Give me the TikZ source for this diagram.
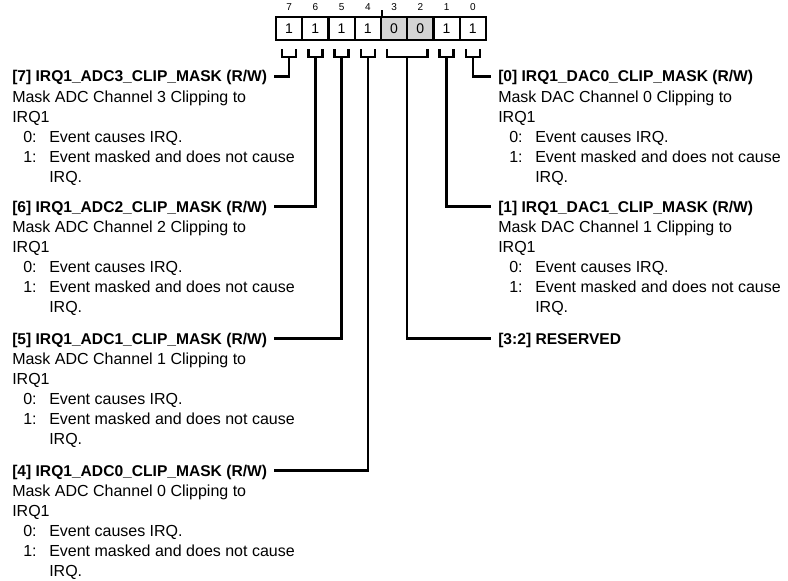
\documentclass[tikz,border=0pt]{standalone}
\usepackage{fontspec}
\setmainfont{Liberation Sans}
\usetikzlibrary{positioning,calc}

\definecolor{rsvdgray}{RGB}{212,212,212}

\tikzset{
  regcell/.style={draw, line width=1.8pt, minimum width=19.7pt, minimum height=17.25pt, inner sep=0pt, font=\fontsize{10.5}{12}\selectfont},
  bitnum/.style={inner sep=0pt, font=\fontsize{7.5}{9}\selectfont},
  brk/.style={line width=1.8pt},
  wire/.style={line width=1.8pt},
  fldname/.style={anchor=base west, inner xsep=5.25pt, inner ysep=0pt, text depth=0pt, font=\bfseries\fontsize{11.7}{15}\selectfont},
  flddesc/.style={inner xsep=5.25pt, inner ysep=0pt, align=left, font=\fontsize{12}{15}\selectfont}
}

\newcommand{\clipdesc}[2]{Mask #1 Channel #2 Clipping to\\IRQ1\\
  \hspace*{8.25pt}\makebox[19.5pt][l]{0:}Event causes IRQ.\\
  \hspace*{8.25pt}\makebox[19.5pt][l]{1:}Event masked and does not cause\\
  \hspace*{27.75pt}IRQ.}

\begin{document}
\begin{tikzpicture}[x=0.75pt,y=-0.75pt]
\useasboundingbox (0,0) rectangle (788,581);

% register cells, bit 7 on the left
\foreach \b/\v/\f in {7/1/white,6/1/white,5/1/white,4/1/white,3/0/rsvdgray,2/0/rsvdgray,1/1/white,0/1/white}
  \node[regcell, fill=\f] (c\b) at ({289.125+26.25*(7-\b)},28.5) {\v};
\foreach \b in {7,...,0}
  \node[bitnum, above=4pt of c\b] (n\b) {\b};
\draw[wire] (c4.north east) -- ++(0,-6);

% brackets under the fields
\foreach \b in {7,6,5,4,1,0} {
  \draw[brk] ($(c\b.south)+(-7,8)$) -- ++(0,8) -- ++(14,0) -- ++(0,-8);
  \coordinate (k\b) at ($(c\b.south)+(0,16)$);
}
\draw[brk] ($(c3.south)+(-7,8)$) -- ++(0,8) -| ($(c2.south)+(7,8)$);
\coordinate (k32) at ($(c3.south)!0.5!(c2.south)+(0,16)$);

% left column
\node[fldname] (t7) at (5,82) {[7] IRQ1\_ADC3\_CLIP\_MASK (R/W)};
\node[flddesc, below=6pt of t7.south west, anchor=north west] (d7) {\clipdesc{ADC}{3}};
\node[fldname] (t6) at (5,212) {[6] IRQ1\_ADC2\_CLIP\_MASK (R/W)};
\node[flddesc, below=6pt of t6.south west, anchor=north west] (d6) {\clipdesc{ADC}{2}};
\node[fldname] (t5) at (5,344) {[5] IRQ1\_ADC1\_CLIP\_MASK (R/W)};
\node[flddesc, below=6pt of t5.south west, anchor=north west] (d5) {\clipdesc{ADC}{1}};
\node[fldname] (t4) at (5,476) {[4] IRQ1\_ADC0\_CLIP\_MASK (R/W)};
\node[flddesc, below=6pt of t4.south west, anchor=north west] (d4) {\clipdesc{ADC}{0}};

% right column
\node[fldname] (t0) at (491,82) {[0] IRQ1\_DAC0\_CLIP\_MASK (R/W)};
\node[flddesc, below=6pt of t0.south west, anchor=north west] (d0) {\clipdesc{DAC}{0}};
\node[fldname] (t1) at (491,212) {[1] IRQ1\_DAC1\_CLIP\_MASK (R/W)};
\node[flddesc, below=6pt of t1.south west, anchor=north west] (d1) {\clipdesc{DAC}{1}};
\node[fldname] (t32) at (491,344) {[3:2] RESERVED};

\draw[wire] (k7) |- (t7.east);
\draw[wire] (k6) |- (t6.east);
\draw[wire] (k5) |- (t5.east);
\draw[wire] (k4) |- (t4.east);
\draw[wire] (k32) |- (t32.west);
\draw[wire] (k1) |- (t1.west);
\draw[wire] (k0) |- (t0.west);
\end{tikzpicture}
\end{document}
